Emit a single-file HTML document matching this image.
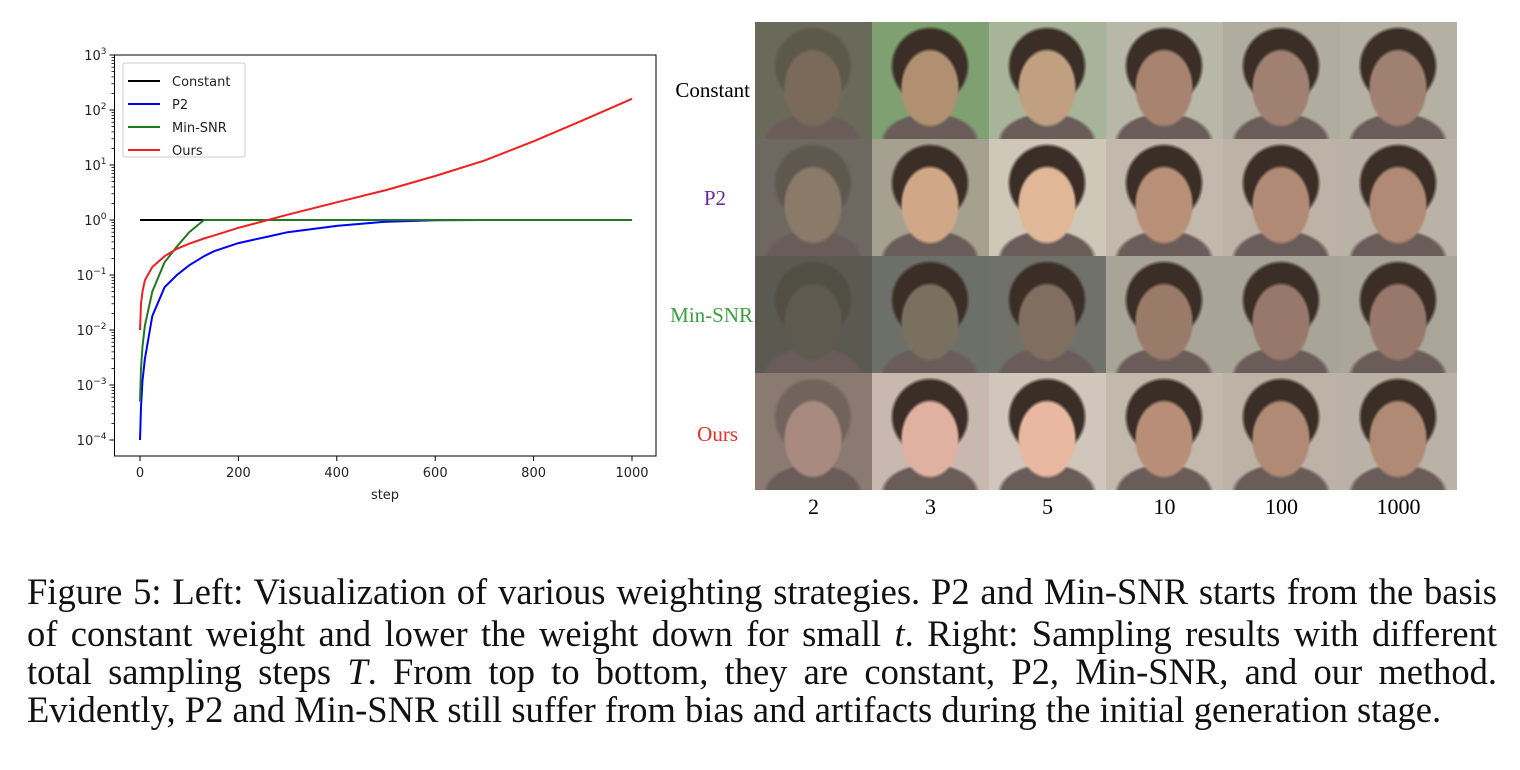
<!DOCTYPE html>
<html><head><meta charset="utf-8"><style>
body{margin:0;width:1520px;height:770px;background:#fff;overflow:hidden;position:relative;font-family:"Liberation Serif",serif}
.cap{position:absolute;left:27px;width:1470px;font-size:36.5px;line-height:42px;text-align:justify;text-align-last:justify;white-space:nowrap;color:#111}
.rl{position:absolute;font-size:21px;text-align:right;width:120px}
.cl{position:absolute;top:494px;font-size:22px;width:117px;text-align:center}
.cell{position:absolute;width:117px;height:117px;overflow:hidden}
</style></head><body>
<svg id="chart" width="700" height="520" style="position:absolute;left:0;top:0" font-family="DejaVu Sans, sans-serif"></svg>
<div id="grid"></div>
<div class="rl" style="left:630px;top:78px;color:#000">Constant</div>
<div class="rl" style="left:606px;top:186px;color:#6a2a9a">P2</div>
<div class="rl" style="left:633px;top:303px;color:#3aa040">Min-SNR</div>
<div class="rl" style="left:618px;top:422px;color:#e8302a">Ours</div>
<div class="cap" style="top:571px">Figure 5: Left: Visualization of various weighting strategies. P2 and Min-SNR starts from the basis</div>
<div class="cap" style="top:613px">of constant weight and lower the weight down for small <i>t</i>. Right: Sampling results with different</div>
<div class="cap" style="top:651px">total sampling steps <i>T</i>. From top to bottom, they are constant, P2, Min-SNR, and our method.</div>
<div class="cap" style="top:689px;width:auto;text-align:left;text-align-last:left">Evidently, P2 and Min-SNR still suffer from bias and artifacts during the initial generation stage.</div>
<script>
const steps=[0,2,5,10,25,50,75,100,130,150,200,260,300,400,500,600,700,800,900,1000];
const constantVals=steps.map(()=>1);
const p2Vals=[1e-4,4e-4,1.2e-3,3e-3,0.018,0.06,0.1,0.15,0.22,0.27,0.38,0.5,0.6,0.78,0.93,0.99,1,1,1,1];
const minSnrVals=[5e-4,2e-3,5e-3,0.012,0.05,0.17,0.33,0.6,1,1,1,1,1,1,1,1,1,1,1,1];
const oursVals=[0.01,0.03,0.05,0.08,0.14,0.22,0.3,0.37,0.46,0.52,0.72,1,1.25,2.1,3.5,6.3,12,27,65,160];
const xTicks=[0,200,400,600,800,1000];
const yExps=[-4,-3,-2,-1,0,1,2,3];
const series=[["Constant",constantVals,"#000"],["P2",p2Vals,"#0000ff"],["Min-SNR",minSnrVals,"#1f7a1f"],["Ours",oursVals,"#f02020"]];
const NS="http://www.w3.org/2000/svg",svg=document.getElementById('chart');
const L=114.5,R=656,T=55,B=456;
const X=v=>140+(v/1000)*(632-140);
const Y=v=>T+(3-Math.log10(v))*55;
function mk(t,a,p){const e=document.createElementNS(NS,t);for(const k in a)e.setAttribute(k,a[k]);(p||svg).appendChild(e);return e;}
const frame=mk('rect',{x:L,y:T,width:R-L,height:B-T,fill:'none',stroke:'#000','stroke-width':1});


xTicks.forEach(v=>{mk('line',{x1:X(v),x2:X(v),y1:B,y2:B+5,stroke:'#000'});
 const t=mk('text',{x:X(v),y:B+21,'font-size':13,'text-anchor':'middle',fill:'#222'});t.textContent=v;
 
 });
yExps.forEach(e=>{const y=Y(Math.pow(10,e));mk('line',{x1:L-5,x2:L,y1:y,y2:y,stroke:'#000'});
 if(e<3)for(let m=2;m<10;m++){const yy=Y(m*Math.pow(10,e));mk('line',{x1:L-3,x2:L,y1:yy,y2:yy,stroke:'#000','stroke-width':0.8});}
 const t=mk('text',{x:L-8,y:y+5,'font-size':13,'text-anchor':'end',fill:'#222'});
 t.innerHTML='10<tspan dy="-6" font-size="9">'+(e<0?'\u2212'+(-e):e)+'</tspan>';
 
 });
const xl=mk('text',{x:385,y:499,'font-size':13,'text-anchor':'middle',fill:'#222'});xl.textContent='step';


series.forEach(([n,vals,c])=>{const p=mk('path',{d:vals.map((v,i)=>(i?'L':'M')+X(steps[i]).toFixed(1)+','+Y(v).toFixed(1)).join(''),fill:'none',stroke:c,'stroke-width':2});
 
 });
const lg=mk('rect',{x:123,y:63,width:122,height:94,fill:'#fff',stroke:'#ccc',rx:2});


series.forEach(([n,v,c],i)=>{const y=81+i*23;mk('line',{x1:128,x2:160,y1:y,y2:y,stroke:c,'stroke-width':2});
 const t=mk('text',{x:172,y:y+5,'font-size':13,fill:'#222'});t.textContent=n;
 
 });
const cols=["2","3","5","10","100","1000"];
const g=document.getElementById('grid');
const bgs=[["#6a6a5a","#7fa070","#a8b49a","#b8b8a8","#b0aca0","#b4b0a4"],["#6e6860","#a6a090","#cfc8b8","#c2b8ac","#bcb2a6","#bab2a6"],["#5a5a50","#6c7068","#70726a","#a8a498","#a8a498","#aaa69a"],["#8a7a72","#c8b8b0","#d0c6bc","#c2b8ac","#bcb2a6","#bab2a6"]];
const skins=[["#7a6a5a","#b09070","#c0a080","#a88470","#a08070","#a08070"],["#8a7a68","#d0a888","#e0b898","#b89078","#b08a74","#b08a74"],["#5e5a50","#7a7060","#806e60","#9a7a68","#98786a","#98786a"],["#a88a80","#e0b0a0","#e8b8a0","#b88e78","#b08a74","#b08a74"]];
for(let r=0;r<4;r++)for(let c=0;c<6;c++){const d=document.createElement('div');d.className='cell';
 
 
 d.style.left=(755+c*117)+'px';d.style.top=(22+r*117)+'px';
 const hair=c<1?'rgba(60,50,40,0.3)':'#3a2e26';
 d.style.background=`radial-gradient(ellipse 30px 40px at 58px 66px, ${skins[r][c]} 90%, transparent 100%), radial-gradient(ellipse 40px 40px at 58px 44px, ${hair} 90%, transparent 100%), radial-gradient(ellipse 50px 30px at 58px 120px, #6a5c58 90%, transparent 100%), ${bgs[r][c]}`;
 g.appendChild(d);}
cols.forEach((t,i)=>{const d=document.createElement('div');d.className='cl';
 
 
 d.style.left=(755+i*117)+'px';d.textContent=t;g.appendChild(d);});
</script>
</body></html>
